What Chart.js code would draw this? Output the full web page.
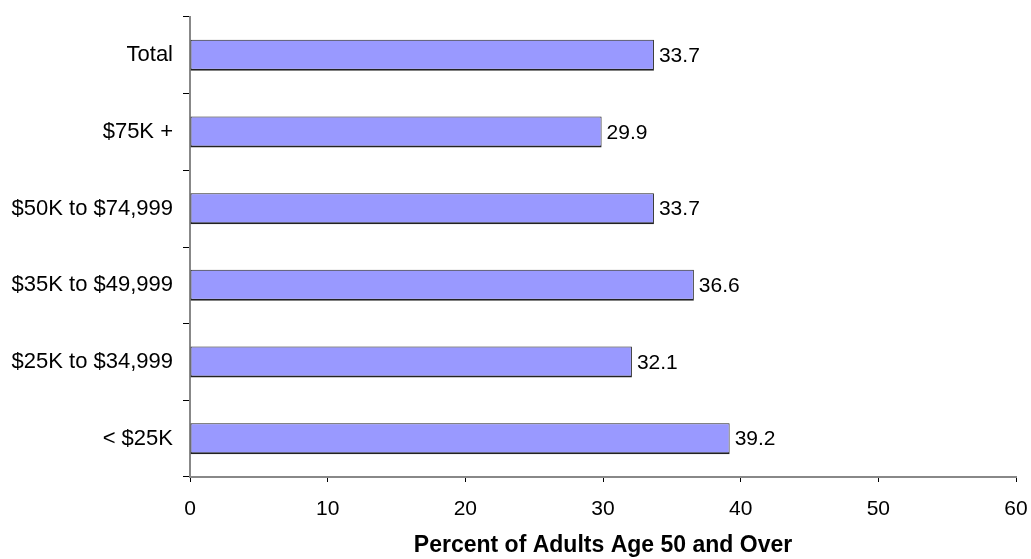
<!DOCTYPE html>
<html>
<head>
<meta charset="utf-8">
<script src="https://cdn.jsdelivr.net/npm/chart.js@4/dist/chart.umd.min.js"></script>
<style>
  html, body { margin: 0; padding: 0; background: #fff; }
  canvas { display: block; }
</style>
</head>
<body>
<canvas id="income_chart" width="1031" height="559"></canvas>
<script>
var incomeGroups = ['Total', '$75K +', '$50K to $74,999', '$35K to $49,999', '$25K to $34,999', '< $25K'];
var percentAdults = [33.7, 29.9, 33.7, 36.6, 32.1, 39.2];
var xTicks = [0, 10, 20, 30, 40, 50, 60];

var fontFamily = '"Liberation Sans", Arial, Helvetica, sans-serif';

// write the value just past the end of each bar
var valueLabels = {
    id: 'valueLabels',
    afterDatasetsDraw: function(chart) {
        var ctx = chart.ctx;
        var meta = chart.getDatasetMeta(0);
        ctx.save();
        ctx.font = '21px ' + fontFamily;
        ctx.fillStyle = '#000';
        ctx.textAlign = 'left';
        ctx.textBaseline = 'middle';
        meta.data.forEach(function(bar, i) {
            ctx.fillText(percentAdults[i].toFixed(1), bar.x + 5, bar.y + 1);
        });
        ctx.restore();
    }
};

var income_ctx = document.getElementById('income_chart');
var income_chart = new Chart(income_ctx, {
    type: 'bar',
    data: {
        labels: incomeGroups,
        datasets: [{
            data: percentAdults,
            backgroundColor: '#9999ff',
            borderColor: '#222',
            borderWidth: { top: 1, left: 1, right: 1, bottom: 2 },
            borderSkipped: false,
            categoryPercentage: 1,
            barPercentage: 0.405
        }]
    },
    options: {
        indexAxis: 'y',
        responsive: false,
        animation: false,
        layout: { padding: { top: 17, right: 15, left: 0, bottom: 0 } },
        plugins: {
            legend: { display: false },
            tooltip: { enabled: false }
        },
        scales: {
            x: {
                min: 0,
                max: 60,
                afterBuildTicks: function(scale) {
                    scale.ticks = xTicks.map(function(v) { return { value: v }; });
                },
                afterFit: function(scale) {
                    scale.height = 82;
                    // plot edges come from layout.padding only
                    scale.paddingLeft = 0;
                    scale.paddingRight = 0;
                },
                border: { display: true, color: '#888', width: 2 },
                grid: { drawOnChartArea: false, drawTicks: true, tickLength: 5, color: '#000' },
                ticks: {
                    padding: 15,
                    color: '#000',
                    font: { family: fontFamily, size: 21 }
                },
                title: {
                    display: true,
                    text: 'Percent of Adults Age 50 and Over',
                    color: '#000',
                    font: { family: fontFamily, size: 23, weight: 'bold' },
                    padding: { top: 0, bottom: 0 }
                }
            },
            y: {
                afterFit: function(scale) {
                    scale.width = 190;
                    scale.paddingTop = 0;
                    scale.paddingBottom = 0;
                },
                border: { display: true, color: '#888', width: 2 },
                grid: { offset: true, drawOnChartArea: false, drawTicks: true, tickLength: 7, color: '#000' },
                ticks: {
                    padding: 10,
                    color: '#000',
                    font: { family: fontFamily, size: 22 }
                }
            }
        }
    },
    plugins: [valueLabels]
});
</script>
</body>
</html>
